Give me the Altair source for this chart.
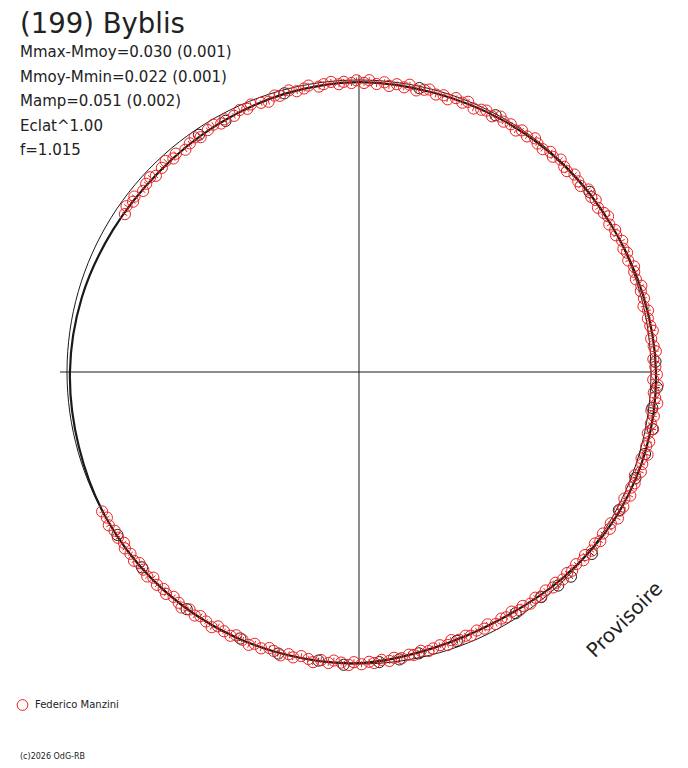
import altair as alt
import pandas as pd
import numpy as np

# ---------------- data ----------------
title_text = "(199) Byblis"
info_lines = ["Mmax-Mmoy=0.030 (0.001)", "Mmoy-Mmin=0.022 (0.001)",
              "Mamp=0.051 (0.002)", "Eclat^1.00", "f=1.015"]
observer = "Federico Manzini"
copyright_text = "(c)2026 OdG-RB"
stamp = "Provisoire"

# Fourier fit (phase in degrees, delta magnitude)
fit_deg = [0, 15, 30, 45, 60, 75, 90, 105, 120, 135, 150, 165,
           180, 195, 210, 225, 240, 255, 270, 285, 300, 315, 330, 345]
fit_dmag = [0.007, 0.010, 0.007, 0.003, 0.000, -0.008, -0.017, -0.018, -0.010, 0.007, 0.024, 0.021,
            0.003, 0.000, -0.003, -0.003, 0.000, 0.007, 0.010, 0.017, 0.027, 0.031, 0.024, 0.014]

# observations (Federico Manzini), phase in degrees
red_deg = [
    304, 305.5, 307, 308, 310, 311.5, 313, 314, 316, 317.5,
    319, 320, 322, 323.5, 325, 326, 328, 329.5, 331, 332,
    334, 335.5, 337, 338, 340, 341.5, 343, 344, 346, 347.5,
    349, 350, 352, 353, 354.5, 356, 357, 358.5, 359.5,
    1, 2, 3.5, 5, 6, 7.5, 9, 10, 11.5, 13,
    14, 15.5, 17, 18, 19.5, 21, 22, 23.5, 25, 26,
    27.5, 29, 30, 31.5, 33, 34, 35.5, 37, 38, 39.5,
    41, 42, 43.5, 45, 46, 47.5, 49, 50, 51.5, 53,
    54, 55.5, 57, 58, 59.5, 61, 62, 63.5, 65, 66,
    67.5, 69, 70, 71.5, 73, 74, 75.5, 77, 78, 79.5,
    81, 82, 83.5, 85, 86, 87.5, 89,
    90.5, 91.5, 92.5, 94, 95, 96, 97.5, 98.5, 100, 101,
    102, 103.5, 104.5, 106, 107, 108, 109.5, 110.5, 112, 113,
    114.5, 115.5, 117, 118, 119.5, 121, 122, 123.5, 125, 126,
    127.5, 129, 130, 131.5, 133, 134, 135.5, 137, 138, 139.5,
    141, 142, 143.5, 145, 146, 147.5, 149, 150, 151.5, 153,
    154, 155.5, 157, 158, 159.5, 161, 162, 163.5, 165, 166,
    167.5, 169, 170, 171.5, 173, 174, 175.5, 177, 178, 179.5,
    181, 182, 183.5, 185, 186, 187.5, 189, 190, 191.5, 193,
    194, 195.5, 197, 198, 199.5, 201, 202, 203.5, 205, 206,
    207.5, 209, 210, 211.5, 213, 214, 215.5, 217, 218, 219.5,
    221, 222, 223.5, 225, 226, 227.5, 229, 230, 231.5, 233,
    234, 235.5, 237, 238.5, 240, 241.5,
]
red_dmag = [
    0.033, 0.022, 0.031, 0.024, 0.035, 0.027, 0.022, 0.033, 0.028, 0.020,
    0.031, 0.024, 0.034, 0.026, 0.019, 0.030, 0.023, 0.017, 0.027, 0.020,
    0.024, 0.014, 0.021, 0.012, 0.019, 0.024, 0.010, 0.016, 0.006, 0.015,
    0.011, 0.004, 0.013, 0.007, 0.002, 0.012, 0.005, 0.010, 0.001,
    0.010, 0.000, 0.012, 0.004, 0.015, 0.006, 0.013, 0.001, 0.016, 0.008,
    0.003, 0.014, 0.009, 0.018, 0.005, 0.012, 0.002, 0.016, 0.009, 0.004,
    0.013, 0.000, 0.010, 0.005, 0.014, 0.002, 0.009, -0.002, 0.007, 0.011,
    0.001, 0.008, -0.003, 0.006, 0.010, -0.001, 0.005, 0.009, -0.004, 0.004,
    -0.002, 0.007, 0.000, -0.006, 0.005, -0.003, 0.003, -0.007, 0.001, -0.005,
    0.002, -0.009, -0.003, 0.000, -0.011, -0.004, -0.008, 0.000, -0.012, -0.006,
    -0.010, -0.016, -0.007, -0.013, -0.019, -0.009, -0.015,
    -0.020, -0.008, -0.024, -0.012, -0.018, -0.027, -0.010, -0.021, -0.015, -0.026,
    -0.011, -0.022, -0.016, -0.028, -0.012, -0.020, -0.024, -0.009, -0.018, -0.013,
    -0.021, -0.007, -0.016, -0.011, -0.019, -0.006, -0.013, -0.002, -0.009, 0.001,
    -0.005, 0.004, -0.003, 0.007, 0.002, 0.009, 0.004, 0.013, 0.007, 0.016,
    0.010, 0.019, 0.013, 0.022, 0.016, 0.027, 0.020, 0.025, 0.018, 0.030,
    0.022, 0.027, 0.019, 0.026, 0.021, 0.029, 0.017, 0.024, 0.020, 0.015,
    0.022, 0.013, 0.017, 0.009, 0.014, 0.005, 0.011, 0.002, 0.007, -0.001,
    0.006, -0.004, 0.003, 0.008, -0.002, 0.005, -0.006, 0.002, 0.007, -0.003,
    0.004, -0.007, 0.001, 0.006, -0.004, 0.003, -0.008, 0.000, 0.005, -0.005,
    -0.001, 0.004, -0.009, -0.002, 0.003, -0.006, 0.001, -0.010, -0.003, 0.002,
    -0.007, 0.000, -0.005, 0.004, -0.008, -0.002, 0.003, -0.006, 0.000, -0.004,
    0.005, -0.002, 0.002, -0.005, 0.003, -0.001,
]

# second set (black circles)
black_deg = [326, 332, 345, 12, 28, 52, 88, 93, 97, 101,
             106, 111, 118, 128, 134, 137, 141, 147, 160, 168,
             172, 176, 183, 188, 196, 204, 216, 228, 236]
black_dmag = [0.020, 0.026, 0.012, 0.006, 0.004, -0.002, -0.016, -0.022, -0.012, -0.024,
              -0.019, -0.014, -0.008, -0.012, -0.009, 0.000, 0.008, 0.015, 0.020, 0.015,
              0.006, 0.004, -0.004, 0.002, -0.003, 0.001, -0.004, 0.000, 0.002]

mag_err = 0.010

# ---------------- helpers ----------------
RED = "#ee2020"
INK = "#1a1a1a"
TXT = "#222222"
FONT = "DejaVu Sans"
TOP = 6  # top padding (px) so the title glyph box stays inside the canvas

xs = alt.Scale(domain=[-1.20205, 1.09932], nice=False, zero=False)
ys = alt.Scale(domain=[-1.32877, 1.22603], nice=False, zero=False)


def to_xy(deg, dmag, dr=0.0):
    a = np.radians(np.asarray(deg, dtype=float))
    r = 1.0 - np.asarray(dmag, dtype=float) + dr
    return r * np.sin(a), r * np.cos(a)


def X(f):
    return alt.X(f, type="quantitative", scale=xs, axis=None)


def Y(f):
    return alt.Y(f, type="quantitative", scale=ys, axis=None)


# reference circle (mean magnitude)
ring_deg = np.arange(0, 362, 2)
rx, ry = to_xy(ring_deg, np.zeros(len(ring_deg)))
ref = alt.Chart(pd.DataFrame({"deg": ring_deg, "px": rx, "py": ry})).mark_line(
    color=INK, strokeWidth=1).encode(x=X("px"), y=Y("py"), order=alt.Order("deg", type="quantitative"))

# axes cross (through the centre)
cross = pd.DataFrame({"x1": [-1.024, 0.0], "x2": [1.0, 0.0], "y1": [0.0, -1.0], "y2": [0.0, 1.017]})
axes = alt.Chart(cross).mark_rule(color=INK, strokeWidth=1).encode(
    x=X("x1"), x2="x2", y=Y("y1"), y2="y2")

# Fourier fit
fx, fy = to_xy(fit_deg, fit_dmag)
fit = alt.Chart(pd.DataFrame({"deg": fit_deg, "px": fx, "py": fy})).mark_line(
    color=INK, strokeWidth=2.2, interpolate="cardinal-closed").encode(
    x=X("px"), y=Y("py"), order=alt.Order("deg", type="quantitative"))


def obs_layers(deg, dmag, color):
    px, py = to_xy(deg, dmag)
    x1, y1 = to_xy(deg, dmag, -mag_err)
    x2, y2 = to_xy(deg, dmag, mag_err)
    df = pd.DataFrame({"deg": deg, "dmag": dmag, "px": px, "py": py,
                       "x1": x1, "y1": y1, "x2": x2, "y2": y2})
    ticks = alt.Chart(df).mark_rule(color=color, strokeWidth=1).encode(
        x=X("x1"), y=Y("y1"), x2="x2", y2="y2")
    pts = alt.Chart(df).mark_point(shape="circle", size=125, filled=False, color=color,
                                   strokeWidth=1, opacity=1).encode(x=X("px"), y=Y("py"))
    return [ticks, pts]


def label(text, x, y, size, **kw):
    return alt.Chart(pd.DataFrame({"t": [text]})).mark_text(
        font=FONT, fontSize=size, color=TXT, **kw).encode(
        x=alt.value(x), y=alt.value(y - TOP), text=alt.Text("t", type="nominal"))


texts = [label(title_text, 12, 25, 27.5, align="left", baseline="alphabetic")]
for i, line in enumerate(info_lines):
    texts.append(label(line, 12, 49 + 24.5 * i, 15, align="left", baseline="alphabetic"))
texts.append(label(observer, 27, 700, 10, align="left", baseline="alphabetic"))
texts.append(label(copyright_text, 12, 750.5, 8, align="left", baseline="alphabetic"))
texts.append(label(stamp, 617, 612, 20, align="center", baseline="middle", angle=315))

leg_pt = alt.Chart(pd.DataFrame({"t": [observer]})).mark_point(
    shape="circle", size=115, filled=False, color=RED, strokeWidth=1, opacity=1).encode(
    x=alt.value(14.5), y=alt.value(697 - TOP))

layers = [ref, axes, fit] + obs_layers(black_deg, black_dmag, INK) + \
    obs_layers(red_deg, red_dmag, RED) + texts + [leg_pt]

chart = alt.layer(*layers).properties(
    width=672, height=752 - TOP,
    autosize=alt.AutoSizeParams(type="none"),
    padding={"top": TOP, "left": 0, "right": 0, "bottom": 0},
    background="white",
).configure_view(stroke=None, strokeWidth=0)

chart.save("out.html", embed_options={"renderer": "svg", "actions": False})
